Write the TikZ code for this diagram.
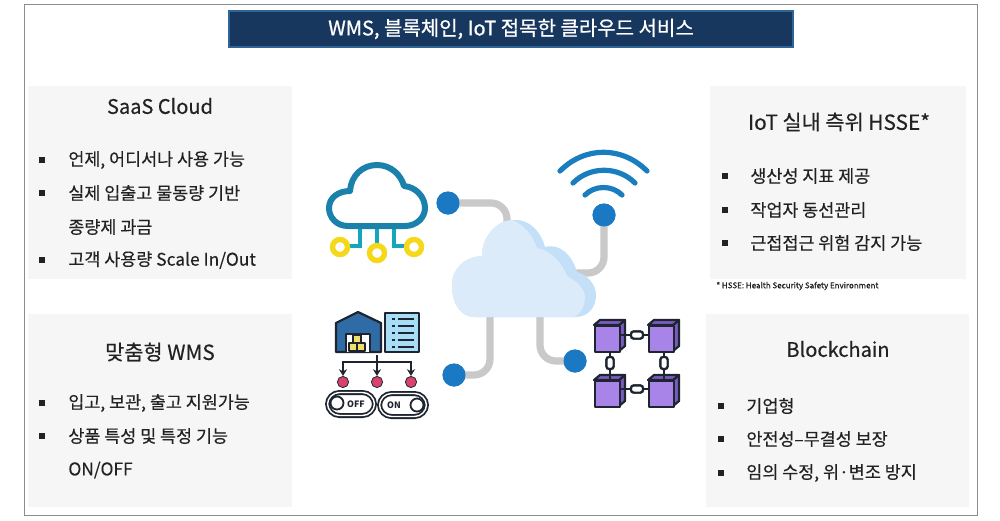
\documentclass[tikz,border=0pt]{standalone}
\usepackage{fontspec}
\setmainfont{Noto Sans CJK KR}
\newfontfamily\krm[FakeBold=0.8]{Noto Sans CJK KR}
\newfontfamily\krl[FakeBold=0.3]{Noto Sans CJK KR}
\usetikzlibrary{arrows.meta}
\definecolor{panelc}{HTML}{F6F6F6}
\definecolor{navy}{HTML}{17375E}
\definecolor{navyedge}{HTML}{2E6496}
\definecolor{dotc}{HTML}{1B78C2}
\definecolor{wire}{HTML}{C9C9C9}
\definecolor{cloudA}{HTML}{DCEBFA}
\definecolor{cloudB}{HTML}{C4DFF8}
\definecolor{iconteal}{HTML}{1A80AC}
\definecolor{stem}{HTML}{14A6BA}
\definecolor{ringc}{HTML}{F5D81A}
\definecolor{wifi}{HTML}{1A7DBE}
\definecolor{inkc}{HTML}{1E2530}
\definecolor{house}{HTML}{2F6CA6}
\definecolor{docc}{HTML}{A8DDF6}
\definecolor{pinkc}{HTML}{D8436E}
\definecolor{boxy}{HTML}{F2DE6A}
\definecolor{cube}{HTML}{A884E8}
\definecolor{cubed}{HTML}{7A5CC0}
\definecolor{txt}{HTML}{222222}
\tikzset{
 panel/.style={fill=panelc,draw=none},
 head/.style={font=\krl\fontsize{10}{11}\selectfont,text=txt,inner sep=0pt,anchor=center},
 headw/.style={font=\krl\fontsize{10.4}{11}\selectfont,text=txt,inner sep=0pt,anchor=center},
 item/.style={font=\krl\fontsize{8.7}{10}\selectfont,text=txt,inner sep=0pt,anchor=west},
 blt/.style={fill=txt,draw=none,inner sep=0pt,minimum size=2.6pt,rectangle},
 dotn/.style={circle,fill=dotc,draw=none,inner sep=0pt,minimum size=11.5pt},
 wireline/.style={draw=wire,line width=3.6pt,rounded corners=8pt},
 wifiarc/.style={draw=wifi,line width=2.6pt,line cap=round},
 ring/.style={circle,draw=ringc,fill=white,line width=2.7pt,inner sep=0pt,minimum size=7.5pt},
 stemline/.style={draw=stem,line width=2.4pt},
 ink/.style={draw=inkc,line width=1.1pt,line join=round},
 flow/.style={draw=inkc,line width=1pt,-{Stealth[length=3.4pt,width=4pt]}},
 pin/.style={circle,fill=pinkc,draw=inkc,line width=.4pt,inner sep=0pt,minimum size=5.6pt},
 switchbox/.style={rectangle,rounded corners=6pt,draw=inkc,double=white,double distance=.7pt,line width=.9pt,inner sep=0pt,minimum width=23.5pt,minimum height=11.5pt},
 knob/.style={circle,draw=inkc,fill=white,line width=.9pt,inner sep=0pt,minimum size=6.5pt},
 swtext/.style={font=\bfseries\fontsize{4.4}{5}\selectfont,text=inkc,inner sep=0pt},
 cubeface/.style={fill=cube,draw=inkc,line width=1.1pt,line join=round},
 cubeside/.style={fill=cubed,draw=inkc,line width=1.1pt,line join=round},
 linkn/.style={rectangle,rounded corners=1.4pt,fill=white,draw=inkc,line width=1.1pt,inner sep=0pt},
}
\begin{document}
\begin{tikzpicture}[x=0.5pt,y=-0.5pt]
\useasboundingbox (0,0) rectangle (1000,520);
\fill[white] (0,0) rectangle (1000,520);
\draw[draw=black!45,line width=.5pt] (24,4) rectangle (977,515);
% title
\node[fill=navy,draw=navyedge,line width=1pt,minimum width=282pt,minimum height=18pt,inner sep=0pt,text=white,font=\krm\fontsize{10}{11}\selectfont] (title) at (511,29) {WMS, 블록체인, IoT 접목한 클라우드 서비스};
% panels
\fill[panel] (28,86) rectangle (292,279);
\fill[panel] (28,314) rectangle (292,507);
\fill[panel] (710,86) rectangle (966,279);
\fill[panel] (706,314) rectangle (969,507);
% SaaS
\node[head] (h1) at (160,106) {SaaS Cloud};
\node[blt] (b11) at (42,160) {}; \node[item] (t11) at (68,160) {언제, 어디서나 사용 가능};
\node[blt] (b12) at (42,193) {}; \node[item] (t12) at (68,193) {실제 입출고 물동량 기반};
\node[item] (t13) at (68,227) {종량제 과금};
\node[blt] (b14) at (42,260) {}; \node[item] (t14) at (68,260) {고객 사용량 Scale In/Out};
% WMS
\node[headw] (h2) at (160,352) {맞춤형 WMS};
\node[blt] (b21) at (42,403) {}; \node[item] (t21) at (68,403) {입고, 보관, 출고 지원가능};
\node[blt] (b22) at (42,436) {}; \node[item] (t22) at (68,436) {상품 특성 및 특정 기능};
\node[item] (t23) at (68,470) {ON/OFF};
% IoT
\node[headw] (h3) at (839,122) {IoT 실내 측위 HSSE*};
\node[blt] (b31) at (725,176) {}; \node[item] (t31) at (750,176) {생산성 지표 제공};
\node[blt] (b32) at (725,210) {}; \node[item] (t32) at (750,210) {작업자 동선관리};
\node[blt] (b33) at (725,243) {}; \node[item] (t33) at (750,243) {근접접근 위험 감지 가능};
\node[item,font=\krm\fontsize{4}{5}\selectfont] (note) at (716,286) {* HSSE: Health Security Safety Environment};
% Blockchain
\node[head] (h4) at (838,349) {Blockchain};
\node[blt] (b41) at (721,406) {}; \node[item] (t41) at (746,406) {기업형};
\node[blt] (b42) at (721,439) {}; \node[item] (t42) at (746,439) {안전성–무결성 보장};
\node[blt] (b43) at (721,473) {}; \node[item] (t43) at (746,473) {임의 수정, 위·변조 방지};
% hub anchors and dots
\coordinate (hubA) at (507,226);
\coordinate (hubB) at (575,273);
\coordinate (hubC) at (490,312);
\coordinate (hubD) at (540,312);
\node[dotn] (d1) at (448,203) {};
\node[dotn] (d2) at (604,215) {};
\node[dotn] (d3) at (454,375) {};
\node[dotn] (d4) at (575,361) {};
% connectors
\draw[wireline] (d1.center) -| (hubA);
\draw[wireline] (d2.center) |- (hubB);
\draw[wireline] (d3.center) -| (hubC);
\draw[wireline] (d4.center) -| (hubD);
\node[dotn] at (d1) {}; \node[dotn] at (d2) {}; \node[dotn] at (d3) {}; \node[dotn] at (d4) {};
% hub cloud
\fill[cloudB] (475,317) .. controls (460,317) and (452,303) .. (452,285) .. controls (452,268) and (465,257) .. (482,256) .. controls (482,235) and (498,220) .. (516,220) .. controls (530,220) and (541,232) .. (545,247) .. controls (560,243) and (572,255) .. (577,272) .. controls (588,275) and (596,285) .. (596,295) .. controls (596,308) and (588,317) .. (575,317) -- cycle;
\fill[cloudA] (475,317) .. controls (460,317) and (452,303) .. (452,285) .. controls (452,268) and (465,257) .. (482,256) .. controls (482,235) and (498,220) .. (512,220) .. controls (523,224) and (533,235) .. (537,248) .. controls (550,250) and (562,262) .. (567,276) .. controls (578,282) and (586,290) .. (585,299) .. controls (584,308) and (580,314) .. (574,317) -- cycle;
% wifi
\draw[wifiarc] (560,171) .. controls (585,146) and (622,146) .. (647,171);
\draw[wifiarc] (573,183) .. controls (590,166) and (618,166) .. (635,183);
\draw[wifiarc] (585,195) .. controls (595,185) and (612,185) .. (622,195);
% saas icon
\draw[stemline] (360,228) -- (360,246) -- (348,246);
\draw[stemline] (377,228) -- (377,246);
\draw[stemline] (394,228) -- (394,246) -- (406,246);
\node[ring] (r1) at (340,247) {};
\node[ring] (r2) at (377,253) {};
\node[ring] (r3) at (414,247) {};
\draw[draw=iconteal,line width=3pt,fill=white,line join=round] (348,226) .. controls (336,226) and (329,217) .. (329,208) .. controls (329,198) and (338,191) .. (350,191) .. controls (351,176) and (362,165) .. (377,165) .. controls (391,165) and (401,175) .. (404,186) .. controls (416,187) and (425,197) .. (425,208) .. controls (425,218) and (416,226) .. (405,226) -- cycle;
% warehouse icon
\fill[house] (336,323) -- (358,312) -- (381,323) -- (381,352) -- (336,352) -- cycle;
\draw[ink] (336,352) -- (336,323) -- (358,312) -- (381,323) -- (381,352) -- cycle;
\draw[ink,fill=white] (346,352) -- (346,334) -- (370,334) -- (370,352);
\draw[ink,fill=boxy] (349,343) rectangle (357,351);
\draw[ink,fill=boxy] (357,343) rectangle (365,351);
\draw[ink,fill=boxy] (353,335) rectangle (361,343);
\draw[ink,fill=docc] (385,313) rectangle (419,352);
\foreach \yy in {319,326,333,340,347}{
  \fill[inkc] (392,\yy-1) rectangle (395,\yy+1);
  \draw[draw=inkc,line width=1pt] (398,\yy) -- (414,\yy);
}
\node[pin] (p1) at (343,382) {};
\node[pin] (p2) at (377,382) {};
\node[pin] (p3) at (411,382) {};
\coordinate (tree) at (377,355);
\coordinate (fork) at (377,362);
\draw[ink] (tree) -- (fork);
\draw[flow] (fork) -| (p1.north);
\draw[flow] (fork) -- (p2.north);
\draw[flow] (fork) -| (p3.north);
\node[switchbox] (off) at (351,404) {};
\node[switchbox] (on) at (403,405) {};
\node[knob] (k1) at (337,403) {};
\node[knob] (k2) at (417,405) {};
\node[swtext] (offt) at (356,404) {OFF};
\node[swtext] (ont) at (394,405) {ON};
% blockchain icon
\foreach \nm/\cx/\cy in {c1/594/320,c2/648/320,c3/594/375,c4/648/375}{
  \fill[cube] (\cx,\cy+5) rectangle (\cx+25,\cy+31);
  \draw[cubeside] (\cx+25,\cy+5) -- (\cx+31,\cy) -- (\cx+31,\cy+26) -- (\cx+25,\cy+31) -- cycle;
  \draw[cubeside] (\cx,\cy+5) -- (\cx+6,\cy) -- (\cx+31,\cy) -- (\cx+25,\cy+5) -- cycle;
  \node[cubeface,minimum width=12.5pt,minimum height=13pt,inner sep=0pt,anchor=north west] (\nm) at (\cx,\cy+5) {};
}
\node[linkn,minimum width=6pt,minimum height=3.6pt] (l1) at (637,335) {};
\node[linkn,minimum width=6pt,minimum height=3.6pt] (l2) at (637,389) {};
\node[linkn,minimum width=3.6pt,minimum height=6pt] (l3) at (610,363) {};
\node[linkn,minimum width=3.6pt,minimum height=6pt] (l4) at (664,363) {};
\draw[ink] (c1.east|-l1) -- (l1); \draw[ink] (l1) -- (c2.west|-l1);
\draw[ink] (c3.east|-l2) -- (l2); \draw[ink] (l2) -- (c4.west|-l2);
\draw[ink] (l3|-c1.south) -- (l3); \draw[ink] (l3) -- (l3|-c3.north);
\draw[ink] (l4|-c2.south) -- (l4); \draw[ink] (l4) -- (l4|-c4.north);
\node[linkn,minimum width=6pt,minimum height=3.6pt] at (l1) {};
\node[linkn,minimum width=6pt,minimum height=3.6pt] at (l2) {};
\node[linkn,minimum width=3.6pt,minimum height=6pt] at (l3) {};
\node[linkn,minimum width=3.6pt,minimum height=6pt] at (l4) {};
\end{tikzpicture}
\end{document}
